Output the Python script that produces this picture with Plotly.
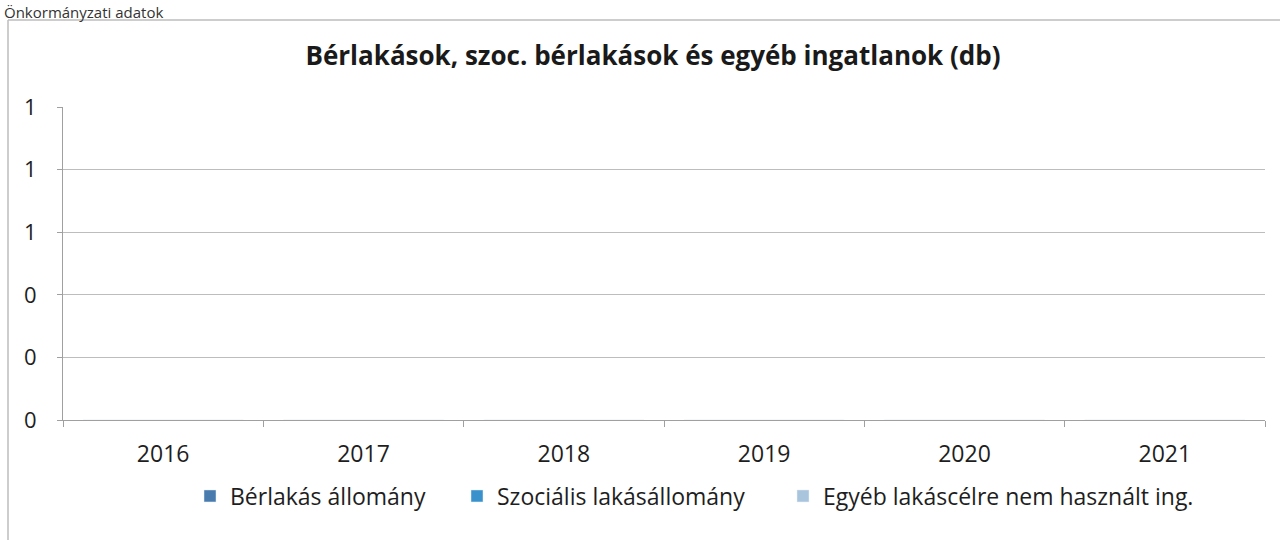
import plotly.graph_objects as go

years = ["2016", "2017", "2018", "2019", "2020", "2021"]
berlakas = [0, 0, 0, 0, 0, 0]
szocialis = [0, 0, 0, 0, 0, 0]
egyeb = [0, 0, 0, 0, 0, 0]
series_names = ["Bérlakás állomány", "Szociális lakásállomány", "Egyéb lakáscélre nem használt ing."]
colors = ["#4a7bae", "#3a92cc", "#a9c5de"]

L, R, T, B = 63, 15, 107, 120
W, H = 1280, 540
pw, ph = W - L - R, H - T - B


def px(x):
    return (x - L) / pw


def py(y):
    return (H - B - y) / ph


font = "Open Sans, sans-serif"
legend_ids = ["legend", "legend2", "legend3"]
legend_x = [190, 457, 783]

fig = go.Figure()
for name, vals, c, lid in zip(series_names, [berlakas, szocialis, egyeb], colors, legend_ids):
    fig.add_trace(go.Bar(x=years, y=vals, name=name, marker_color=c, legend=lid))

legend_common = dict(orientation="h", xanchor="left", y=py(496), yanchor="middle",
                     font=dict(size=23, color="#1e1e1e", family=font),
                     bgcolor="rgba(0,0,0,0)", borderwidth=0)

fig.update_layout(
    width=W, height=H,
    margin=dict(l=L, r=R, t=T, b=B),
    paper_bgcolor="white", plot_bgcolor="white",
    font=dict(family=font, color="#1e1e1e", size=23),
    title=dict(text="<b>Bérlakások, szoc. bérlakások és egyéb ingatlanok (db)</b>",
               x=653 / W, xanchor="center", y=1 - 56 / H, yanchor="middle",
               font=dict(size=26, color="#1a1a1a", family=font)),
    barmode="group",
    showlegend=True,
    legend=dict(x=px(legend_x[0]), **legend_common),
    legend2=dict(x=px(legend_x[1]), **legend_common),
    legend3=dict(x=px(legend_x[2]), **legend_common),
    xaxis=dict(type="category", showline=True, linecolor="#a0a0a0", linewidth=1,
               ticks="outside", ticklen=6, tickcolor="#a0a0a0", tickson="boundaries",
               ticklabelstandoff=13, showgrid=False,
               tickfont=dict(size=23, color="#1e1e1e")),
    yaxis=dict(range=[0, 1], dtick=0.2, tickformat=".0f", showline=True, linecolor="#a0a0a0",
               linewidth=1, ticks="outside", ticklen=5, tickcolor="#a0a0a0",
               gridcolor="#bdbdbd", gridwidth=1, zeroline=False,
               ticklabelstandoff=16, tickfont=dict(size=22, color="#1e1e1e")),
)

# outer chart frame (left and top edges)
fig.add_shape(type="line", xref="paper", yref="paper",
              x0=px(8), x1=px(8), y0=py(20), y1=py(560),
              line=dict(color="#bcbcbc", width=1.5))
fig.add_shape(type="line", xref="paper", yref="paper",
              x0=px(8), x1=px(1290), y0=py(20), y1=py(20),
              line=dict(color="#bcbcbc", width=1.5))
fig.add_annotation(text="Önkormányzati adatok", xref="paper", yref="paper",
                   x=px(2), xanchor="left", y=py(0), yanchor="top",
                   showarrow=False, font=dict(size=15, color="#333", family=font))

fig.write_html("out.html", config={"displayModeBar": False},
               post_script="document.body.style.margin='0';")
